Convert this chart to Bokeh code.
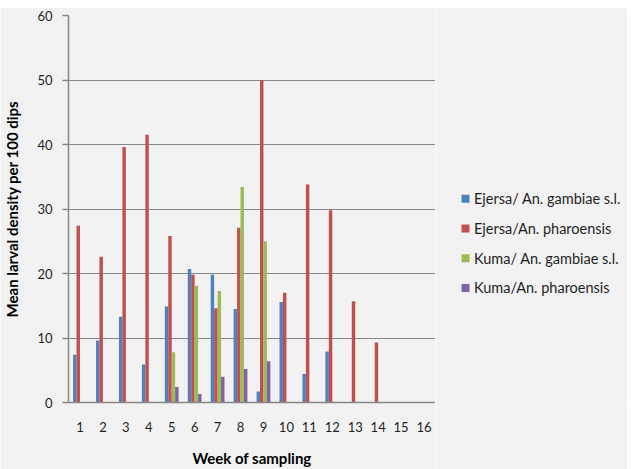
from bokeh.plotting import figure
from bokeh.models import Range1d, FixedTicker, ColumnDataSource, Spacer
from bokeh.layouts import row, column
from bokeh.core.properties import value
from bokeh.embed import file_html
from bokeh.resources import INLINE
from bokeh.transform import dodge

weeks = list(range(1, 17))
week_labels = [str(w) for w in weeks]
y_ticks = [0, 10, 20, 30, 40, 50, 60]

series_names = [
    "Ejersa/ An. gambiae s.l.",
    "Ejersa/An. pharoensis",
    "Kuma/ An. gambiae s.l.",
    "Kuma/An. pharoensis",
]
ejersa_gambiae = [7.4, 9.6, 13.3, 5.9, 14.9, 20.7, 19.8, 14.5, 1.7, 15.6, 4.4, 7.9, 0, 0, 0, 0]
ejersa_pharoensis = [27.4, 22.6, 39.6, 41.5, 25.8, 19.8, 14.6, 27.1, 50.0, 17.0, 33.8, 29.8, 15.7, 9.3, 0, 0]
kuma_gambiae = [0, 0, 0, 0, 7.8, 18.1, 17.3, 33.4, 25.0, 0, 0, 0, 0, 0, 0, 0]
kuma_pharoensis = [0, 0, 0, 0, 2.4, 1.3, 4.0, 5.2, 6.4, 0, 0, 0, 0, 0, 0, 0]

colors = ["#4f81bd", "#c0504d", "#9bbb59", "#8064a2"]
FONT = "Lato"
TEXT = "#1f1f1f"
GRID = "#878787"
BG = "#f2f2f2"
GAP = 7           # white strip above the chart area
H = 469 - GAP
TOP = 8           # frame top border inside the figure
FRAME_H = 387     # frame height
BOTTOM = H - TOP - FRAME_H

source = ColumnDataSource(dict(
    week=weeks,
    s0=ejersa_gambiae,
    s1=ejersa_pharoensis,
    s2=kuma_gambiae,
    s3=kuma_pharoensis,
))

p = figure(
    width=435, height=H,
    x_range=Range1d(0.5, 16.5), y_range=Range1d(0, 60),
    output_backend="svg", toolbar_location=None,
    min_border_left=62, min_border_right=0, min_border_top=TOP, min_border_bottom=BOTTOM,
    background_fill_color=BG, border_fill_color=BG, outline_line_color=None,
)

bar_w = 0.15
offsets = [-0.225, -0.075, 0.075, 0.225]
for i, (col, off) in enumerate(zip(colors, offsets)):
    p.vbar(x=dodge("week", off, range=p.x_range), top="s%d" % i, bottom=0, width=bar_w,
           source=source, fill_color=col, line_color=None)

# axes
p.xaxis.ticker = FixedTicker(ticks=weeks)
p.xaxis.major_label_overrides = {w: l for w, l in zip(weeks, week_labels)}
p.xaxis.major_tick_out = 0
p.xaxis.major_tick_in = 0
p.xaxis.minor_tick_line_color = None
p.xaxis.major_label_standoff = 19
p.xaxis.axis_label = "Week of sampling"
p.xaxis.axis_label_standoff = 14

p.yaxis.ticker = FixedTicker(ticks=y_ticks)
p.yaxis.major_tick_out = 6
p.yaxis.major_tick_in = 0
p.yaxis.minor_tick_line_color = None
p.yaxis.major_label_standoff = 10
p.yaxis.axis_label = "Mean larval density per 100 dips"
p.yaxis.axis_label_standoff = 13

for ax in (p.xaxis, p.yaxis):
    ax.axis_line_color = GRID
    ax.axis_line_width = 1.5
    ax.major_tick_line_color = GRID
    ax.major_tick_line_width = 1.5
    ax.major_label_text_font = FONT
    ax.major_label_text_font_size = "13px"
    ax.major_label_text_color = TEXT
    ax.axis_label_text_font = FONT
    ax.axis_label_text_font_size = "15px"
    ax.axis_label_text_font_style = "bold"
    ax.axis_label_text_color = "#000000"

p.xgrid.grid_line_color = None
p.ygrid.grid_line_color = GRID
p.ygrid.grid_line_width = 1
p.ygrid.ticker = FixedTicker(ticks=y_ticks)

# legend panel: a separate figure (its frame is aligned with the plot frame in the row)
LW = 192
lg = figure(
    width=LW, height=H,
    x_range=Range1d(0, LW), y_range=Range1d(0, FRAME_H),
    output_backend="svg", toolbar_location=None,
    x_axis_location=None, y_axis_location=None,
    min_border_left=0, min_border_right=0, min_border_top=TOP, min_border_bottom=BOTTOM,
    background_fill_color=BG, border_fill_color=BG, outline_line_color=None,
)
lg.xgrid.visible = False
lg.ygrid.visible = False

first_row = 183.3   # first legend row centre, px below the frame top
row_gap = 29.7
leg_y = [FRAME_H - (first_row + i * row_gap) for i in range(len(series_names))]
lg.scatter(x=[30] * len(series_names), y=leg_y, marker="square", size=8,
           fill_color=colors, line_color=None)
lg.text(x=[38.5] * len(series_names), y=leg_y, text=series_names,
        text_font=value(FONT), text_font_size=value("14.5px"), text_color=TEXT,
        text_baseline="middle", text_align="left")

layout = column(Spacer(width=627, height=GAP), row(p, lg, spacing=0), spacing=0)
open("out.html", "w").write(file_html(layout, INLINE))
